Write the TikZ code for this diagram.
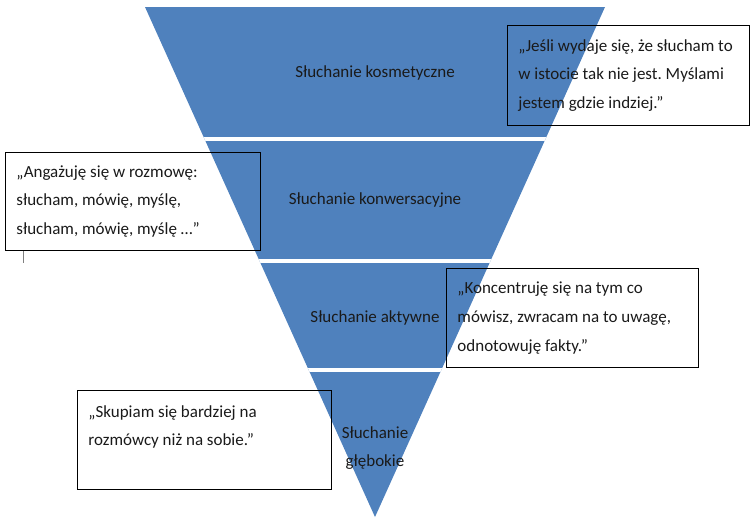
\documentclass[tikz,border=0pt]{standalone}
\usepackage{fontspec}
\setmainfont{Carlito}
\usetikzlibrary{positioning}
\definecolor{FunnelBlue}{HTML}{4F81BD}
\definecolor{QuoteText}{HTML}{1A1A1A}

\begin{document}
\frenchspacing
\begin{tikzpicture}[x=0.03cm, y=-0.03cm,
        level/.style={align=center, text=QuoteText, font={\fontsize{14.5}{23.5}\selectfont}},
        quote/.style={rectangle, draw=black, line width=0.8pt, anchor=north west, align=flush left, inner xsep=0.33cm, text=QuoteText, font={\fontsize{14.5}{24.5}\selectfont}},
        gap/.style={white, line width=0.12cm}
    ]
    \useasboundingbox (0,0) rectangle (751,518);

    % Funnel
    \fill[FunnelBlue] (145,7) -- (605,7) -- (375,517) -- cycle;
    \begin{scope}
        \clip (145,7) -- (605,7) -- (375,517) -- cycle;
        \draw[gap] (100,139) -- (650,139);
        \draw[gap] (100,260.5) -- (650,260.5);
        \draw[gap] (100,370) -- (650,370);
    \end{scope}

    % Levels
    \node[level] (kosmetyczne) at (375,73) {Słuchanie kosmetyczne};
    \node[level] (konwersacyjne) at (375,200) {Słuchanie konwersacyjne};
    \node[level] (aktywne) at (375,318) {Słuchanie aktywne};
    \node[level] (glebokie) at (375,448) {Słuchanie\\głębokie};

    % Quotes
    \node[quote, minimum width=7.26cm, minimum height=3cm, text width=6.6cm] (q1) at (507,25)
        {„Jeśli wydaje się, że słucham to\\w istocie tak nie jest. Myślami\\jestem gdzie indziej.”};
    \node[quote, minimum width=7.65cm, minimum height=2.94cm, text width=6.99cm] (q2) at (5,152)
        {„Angażuję się w rozmowę:\\słucham, mówię, myślę,\\słucham, mówię, myślę …”};
    \node[quote, minimum width=7.56cm, minimum height=2.97cm, text width=6.9cm] (q3) at (446,268)
        {„Koncentruję się na tym co\\mówisz, zwracam na to uwagę,\\odnotowuję fakty.”};
    \node[quote, minimum width=7.62cm, minimum height=2.97cm, text width=6.96cm] (q4) at (77,390)
        {„Skupiam się bardziej na\\rozmówcy niż na sobie.”\\\mbox{}};

    % Cursor mark
    \draw[gray, line width=0.4pt] (q2.south west) ++(18,0) -- ++(0,12);
\end{tikzpicture}
\end{document}
